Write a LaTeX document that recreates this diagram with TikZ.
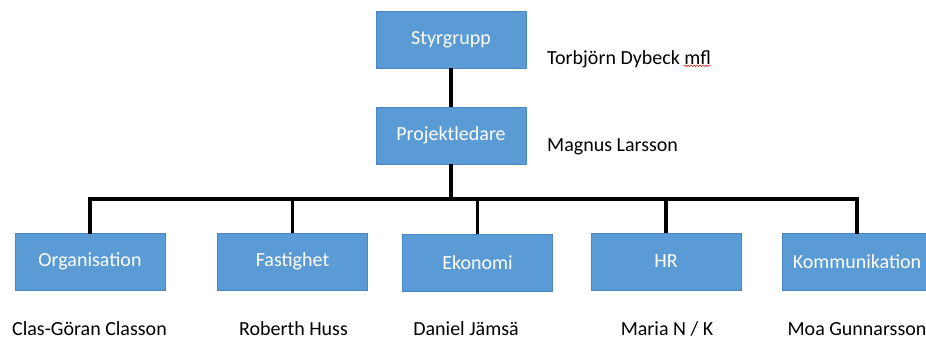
\documentclass[tikz,border=0pt]{standalone}
\usepackage{fontspec}
\setmainfont{Carlito}
\usetikzlibrary{decorations.pathmorphing}
\definecolor{boxblue}{HTML}{5B9BD5}
\definecolor{boxedge}{HTML}{4A86C0}
\begin{document}
\begin{tikzpicture}[x=1pt,y=-1pt,
  orgbox/.style={rectangle, fill=boxblue, draw=boxedge, line width=0.8pt, minimum width=150pt, minimum height=57pt, text=white, font=\fontsize{20}{22}\selectfont, inner sep=0pt},
  person/.style={text=black, font=\fontsize{20}{22}\selectfont, inner sep=0pt},
  lowname/.style={person, anchor=base, text depth=0pt},
  link/.style={draw=black, line width=3.2pt}]
\clip (0,0) rectangle (926,340);
\fill[white] (0,0) rectangle (926,340);

\node[orgbox] (sg) at (451,39.5) {Styrgrupp};
\node[orgbox] (pl) at (451,135.5) {Projektledare};
\node[orgbox] (org) at (90,261.5) {Organisation};
\node[orgbox] (fas) at (292.5,261.5) {Fastighet};
\node[orgbox] (eko) at (477.5,263) {Ekonomi};
\node[orgbox] (hr) at (666,261.5) {HR};
\node[orgbox] (kom) at (857,261.5) {Kommunikation};

\node[person, anchor=west] (sgp) at (547,59) {Torbjörn Dybeck mfl};
\node[person, anchor=west] (plp) at (547,147) {Magnus Larsson};
\node[lowname] (orgp) at (89.5,335) {Clas-Göran Classon};
\node[lowname] (fasp) at (293.5,335) {Roberth Huss};
\node[lowname] (ekop) at (466,335) {Daniel Jämsä};
\node[lowname] (hrp) at (667,335) {Maria N / K};
\node[lowname] (komp) at (857,335) {Moa Gunnarsson};

\draw[red, line width=0.5pt, decorate, decoration={snake, amplitude=0.8pt, segment length=3pt}]
  ([xshift=-27pt,yshift=2pt]sgp.south east) -- ([yshift=2pt]sgp.south east);

\coordinate (bar) at (451,199);
\draw[link] (sg.south) -- (pl.north);
\draw[link] (pl.south) -- (bar);
\draw[link, line cap=rect] (bar) -| (org.north);
\draw[link] (bar) -| (fas.north);
\draw[link] (bar) -| (eko.north);
\draw[link] (bar) -| (hr.north);
\draw[link, line cap=rect] (bar) -| (kom.north);
\end{tikzpicture}
\end{document}
